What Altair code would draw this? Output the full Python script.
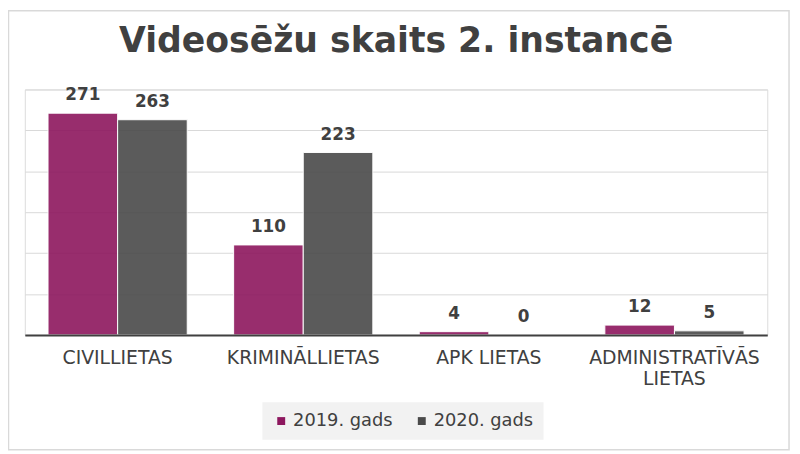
import altair as alt
import pandas as pd

categories = ["CIVILLIETAS", "KRIMINĀLLIETAS", "APK LIETAS", "ADMINISTRATĪVĀS LIETAS"]
series = ["2019. gads", "2020. gads"]
values_2019 = [271, 110, 4, 12]
values_2020 = [263, 223, 0, 5]
grid_values = [0, 50, 100, 150, 200, 250, 300]
title_text = "Videosēžu skaits 2. instancē"

rows = []
for c, v1, v2 in zip(categories, values_2019, values_2020):
    rows.append({"category": c, "series": series[0], "value": v1})
    rows.append({"category": c, "series": series[1], "value": v2})
df = pd.DataFrame(rows)

FONT = "DejaVu Sans"
TXT = "#404040"

x_enc = alt.X(
    "category:N",
    sort=categories,
    scale=alt.Scale(paddingInner=0.25, paddingOuter=0.125),
    axis=alt.Axis(
        title=None, labelAngle=0, labelFontSize=19, labelFont=FONT, labelColor=TXT,
        labelPadding=14, ticks=False, domainColor=TXT, domainWidth=2, labelLimit=400,
        labelLineHeight=21, grid=False, zindex=1,
        labelExpr="datum.label == 'ADMINISTRATĪVĀS LIETAS' ? ['ADMINISTRATĪVĀS', 'LIETAS'] : datum.label",
    ),
)
y_enc = alt.Y(
    "value:Q",
    scale=alt.Scale(domain=[0, 300], nice=False),
    axis=alt.Axis(title=None, labels=False, ticks=False, domain=False, values=grid_values,
                  gridColor="#d9d9d9", gridWidth=1),
)
xoff = alt.XOffset("series:N", sort=series)

bars = alt.Chart(df).mark_bar(opacity=0.9, stroke="white", strokeWidth=1).encode(
    x=x_enc,
    y=y_enc,
    xOffset=xoff,
    color=alt.Color(
        "series:N",
        sort=series,
        scale=alt.Scale(domain=series, range=["#8D175E", "#4A4A4A"]),
        legend=alt.Legend(
            title=None, orient="none", legendX=240, legendY=316, direction="horizontal",
            symbolType="square", symbolSize=64, symbolStrokeWidth=0, symbolOpacity=1,
            labelFontSize=18, labelFont=FONT, labelColor=TXT, fillColor="#f2f2f2",
            padding=10, labelOffset=3, columnPadding=20,
        ),
    ),
)

labels = alt.Chart(df).mark_text(
    dy=-13, baseline="alphabetic", fontSize=17, font=FONT, fontWeight="bold", color=TXT
).encode(
    x=alt.X("category:N", sort=categories),
    y=alt.Y("value:Q"),
    xOffset=xoff,
    text=alt.Text("value:Q"),
)

frame = alt.Chart(pd.DataFrame({"f": [0]})).mark_rect(
    filled=False, stroke="#d9d9d9", strokeWidth=1.5
).encode(
    x=alt.value(-16.5), x2=alt.value(772), y=alt.value(-79.5), y2=alt.value(364)
)

chart = alt.layer(frame, bars, labels).properties(
    width=750,
    height=248,
    title=alt.TitleParams(
        title_text, fontSize=35, font=FONT, fontWeight="bold", color=TXT,
        anchor="middle", offset=-77, baseline="alphabetic", frame="group",
    ),
    autosize=alt.AutoSizeParams(type="none"),
    padding={"left": 17, "top": 80, "right": 25, "bottom": 118},
).configure_view(stroke=None).configure(background="white")

chart.save("out.html", embed_options={"renderer": "svg", "actions": False})
